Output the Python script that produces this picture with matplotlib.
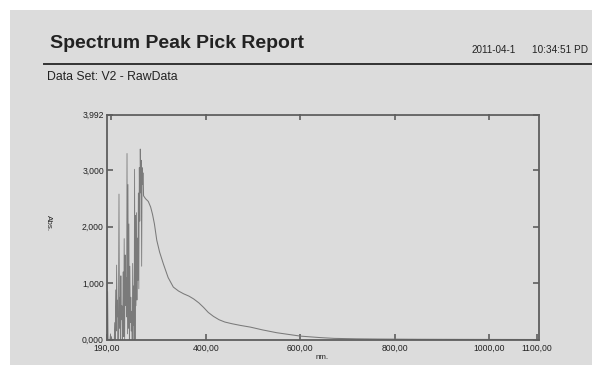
import numpy as np
import matplotlib
matplotlib.use("Agg")
import matplotlib.pyplot as plt
from matplotlib.patches import Rectangle

plt.rcParams['font.family'] = ['Liberation Sans', 'DejaVu Sans']

# ---- data ----
noisy_nm = list(range(190, 268))
noisy_abs = [2.38, 0.00, 0.85, 0.00, 0.00, 0.00, 0.00, 0.00, 0.10, 0.00,
             0.05, 0.00, 0.00, 0.00, 0.00, 0.00, 0.00, 0.30, 0.00, 0.88,
             0.15, 1.32, 0.40, 0.70, 0.00, 0.50, 2.58, 0.20, 0.75, 0.00,
             1.13, 0.35, 0.60, 0.00, 0.45, 1.20, 0.05, 1.79, 0.00, 1.50,
             0.60, 1.10, 0.40, 3.30, 0.10, 2.75, 0.20, 2.05, 0.00, 1.30,
             0.30, 0.75, 0.15, 0.50, 0.00, 1.35, 0.25, 0.95, 0.00, 3.02,
             0.00, 2.20, 0.60, 2.25, 0.70, 1.80, 1.05, 2.60, 0.90, 3.05,
             2.10, 3.38, 2.60, 3.18, 1.30, 3.05, 2.75, 2.95]
smooth_nm = [268, 272, 278, 283, 287, 291, 296, 302, 310, 320, 331, 342, 353,
             364, 374, 385, 395, 405, 416, 428, 440, 455, 473, 494, 520, 550,
             575, 600, 640, 671, 720, 766, 850, 950, 1100]
smooth_abs = [2.55, 2.50, 2.45, 2.35, 2.22, 2.05, 1.76, 1.55, 1.34, 1.10, 0.93,
              0.86, 0.81, 0.77, 0.72, 0.65, 0.57, 0.48, 0.41, 0.35, 0.31, 0.28,
              0.25, 0.22, 0.17, 0.12, 0.09, 0.06, 0.035, 0.02, 0.012, 0.008,
              0.004, 0.002, 0.0]

x_ticks = [190, 400, 600, 800, 1000, 1100]
x_labels = ["190,00", "400,00", "600,00", "800,00", "1000,00", "1100,00"]
y_ticks = [0, 1, 2, 3, 3.992]
y_labels = ["0,000", "1,000", "2,000", "3,000", "3,992"]
top_ticks = [200, 400, 600, 800, 1000]

title = "Spectrum Peak Pick Report"
date_text = "2011-04-1"
time_text = "10:34:51 PD"
dataset_text = "Data Set: V2 - RawData"

# ---- figure ----
W, H = 592, 365
fig = plt.figure(figsize=(W / 100, H / 100), dpi=100)
fig.patch.set_facecolor("white")
bg = "#dcdcdc"
fig.patches.append(Rectangle((10 / W, 0), 1 - 10 / W, 1 - 10 / H,
                             transform=fig.transFigure, facecolor=bg,
                             edgecolor="none", zorder=-10))

def fx(px):
    return px / W

def fy(py):
    return 1 - py / H

txt = "#222222"
fig.text(fx(50), fy(43), title, fontsize=14, fontweight="bold", color=txt,
         ha="left", va="center")
fig.text(fx(472), fy(50), date_text, fontsize=7.1, color=txt, ha="left", va="center")
fig.text(fx(532), fy(50), time_text, fontsize=7.2, color=txt, ha="left", va="center")
fig.add_artist(plt.Line2D([fx(44), 1.0], [fy(64), fy(64)], transform=fig.transFigure,
                          color="#333333", lw=1.4))
fig.text(fx(47), fy(77), dataset_text, fontsize=8.8, color=txt, ha="left", va="center")

# axes
left_px, right_px, top_px, bot_px = 106.7, 539, 114.5, 339.5
ax = fig.add_axes([fx(left_px), fy(bot_px), (right_px - left_px) / W,
                   (bot_px - top_px) / H])
ax.set_facecolor(bg)
ax.patch.set_alpha(0)

ax.plot(noisy_nm, noisy_abs, color="#7a7a7a", lw=0.6)
ax.plot([noisy_nm[-1]] + smooth_nm, [noisy_abs[-1]] + smooth_abs, color="#7a7a7a", lw=0.75)

ax.set_xlim(190, 1105)
ax.set_ylim(0, 3.992)
ax.set_xticks(x_ticks)
ax.set_xticklabels(x_labels)
ax.set_yticks(y_ticks)
ax.set_yticklabels(y_labels)

frame_c = "#5e5e5e"
for s in ax.spines.values():
    s.set_color(frame_c)
    s.set_linewidth(1.3)

ax.tick_params(axis="both", direction="in", length=4, width=1.2, color=frame_c,
               labelsize=6.2, labelcolor=txt)
ax.tick_params(axis="x", pad=3)
ax.tick_params(axis="y", pad=2, right=True)

sec = ax.secondary_xaxis("top")
sec.set_xticks(top_ticks)
sec.tick_params(direction="in", length=4, width=1.2, color=frame_c, labeltop=False)
sec.spines["top"].set_visible(False)

fig.text(fx(322.5), fy(357.5), "nm.", fontsize=5.8, color=txt, ha="center", va="center")
fig.text(fx(48), fy(223), "Abs.", fontsize=5.8, color=txt, ha="center", va="center",
         rotation=270)

fig.savefig("out.png", dpi=100, facecolor=fig.get_facecolor())
